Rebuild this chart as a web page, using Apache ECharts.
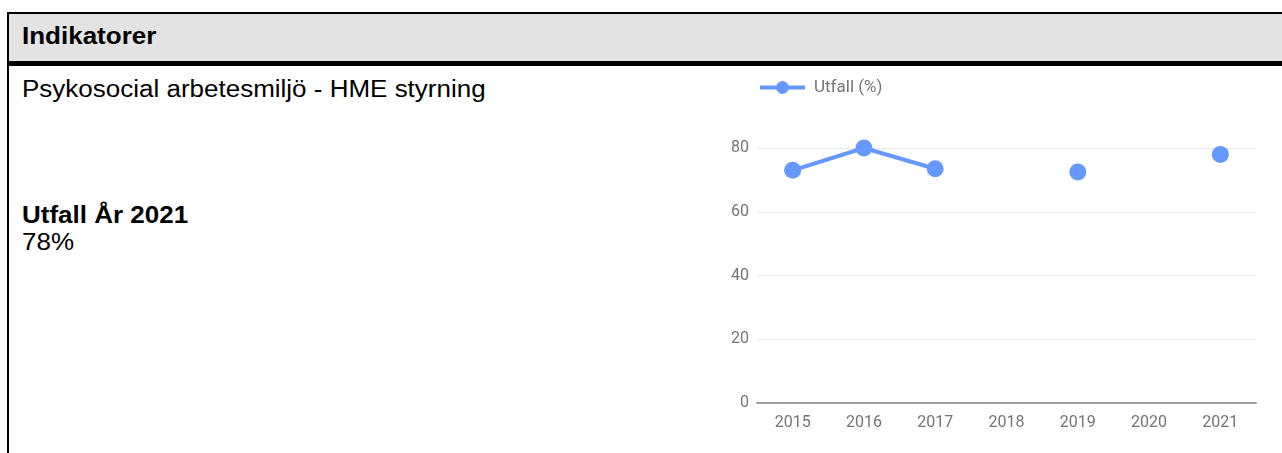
<!DOCTYPE html>
<html>
<head>
<meta charset="utf-8">
<script src="https://cdn.jsdelivr.net/npm/echarts@6/dist/echarts.min.js"></script>
<style>
  html, body { margin: 0; padding: 0; background: #fff; width: 1282px; height: 453px; overflow: hidden; position: relative; }
  #frame { position: absolute; left: 7px; top: 12px; width: 1275px; height: 441px; border-left: 2px solid #000; border-top: 2px solid #000; box-sizing: border-box; }
  #head { position: absolute; left: 9px; top: 14px; width: 1273px; height: 52px; background: #e3e3e3; border-bottom: 5px solid #000; box-sizing: border-box; }
  .t { position: absolute; font-family: "Liberation Sans", Arial, sans-serif; color: #000; white-space: nowrap; transform-origin: left top; transform: scaleX(1.13); font-size: 23px; line-height: 1; }
  #chart { position: absolute; left: 0; top: 0; width: 1282px; height: 453px; }
</style>
</head>
<body>
<div id="frame"></div>
<div id="head"></div>
<div class="t" style="left:22px; top:25px; font-weight:bold;">Indikatorer</div>
<div class="t" style="left:22px; top:78px;">Psykosocial arbetesmiljö - HME styrning</div>
<div class="t" style="left:22px; top:204px; font-weight:bold;">Utfall År 2021</div>
<div class="t" style="left:22px; top:231px;">78%</div>
<div id="chart"></div>
<script>
const categories = ['2015', '2016', '2017', '2018', '2019', '2020', '2021'];
const utfall = [73, 80, 73.5, null, 72.5, null, 78];
const seriesName = 'Utfall (%)';

const chart = echarts.init(document.getElementById('chart'), null, { renderer: 'canvas' });
chart.setOption({
  animation: false,
  legend: {
    show: true,
    left: 758, top: 79,
    padding: 0,
    itemWidth: 45, itemHeight: 16, itemGap: 10,
    lineStyle: { width: 4 },
    textStyle: { fontFamily: 'Roboto', fontSize: 17, color: '#757575', padding: [0, 0, 0, 4] },
    data: [seriesName]
  },
  grid: { left: 757, right: 26, top: 148, bottom: 50, containLabel: false },
  xAxis: {
    type: 'category',
    data: categories,
    boundaryGap: true,
    axisLine: { show: true, lineStyle: { color: '#9e9e9e', width: 2 } },
    axisTick: { show: false },
    axisLabel: { fontFamily: 'Roboto', fontSize: 16, color: '#757575', margin: 12 },
    splitLine: { show: false }
  },
  yAxis: {
    type: 'value',
    min: 0, max: 80, interval: 20,
    axisLine: { show: false },
    axisTick: { show: false },
    axisLabel: { fontFamily: 'Roboto', fontSize: 16, color: '#757575', margin: 8 },
    splitLine: { show: true, lineStyle: { color: '#ebebeb', width: 1 } }
  },
  series: [{
    name: seriesName,
    type: 'line',
    data: utfall,
    connectNulls: false,
    showAllSymbol: true,
    symbol: 'circle',
    symbolSize: 17,
    itemStyle: { color: '#6699ff' },
    lineStyle: { color: '#6699ff', width: 4 }
  }]
});
</script>
</body>
</html>
